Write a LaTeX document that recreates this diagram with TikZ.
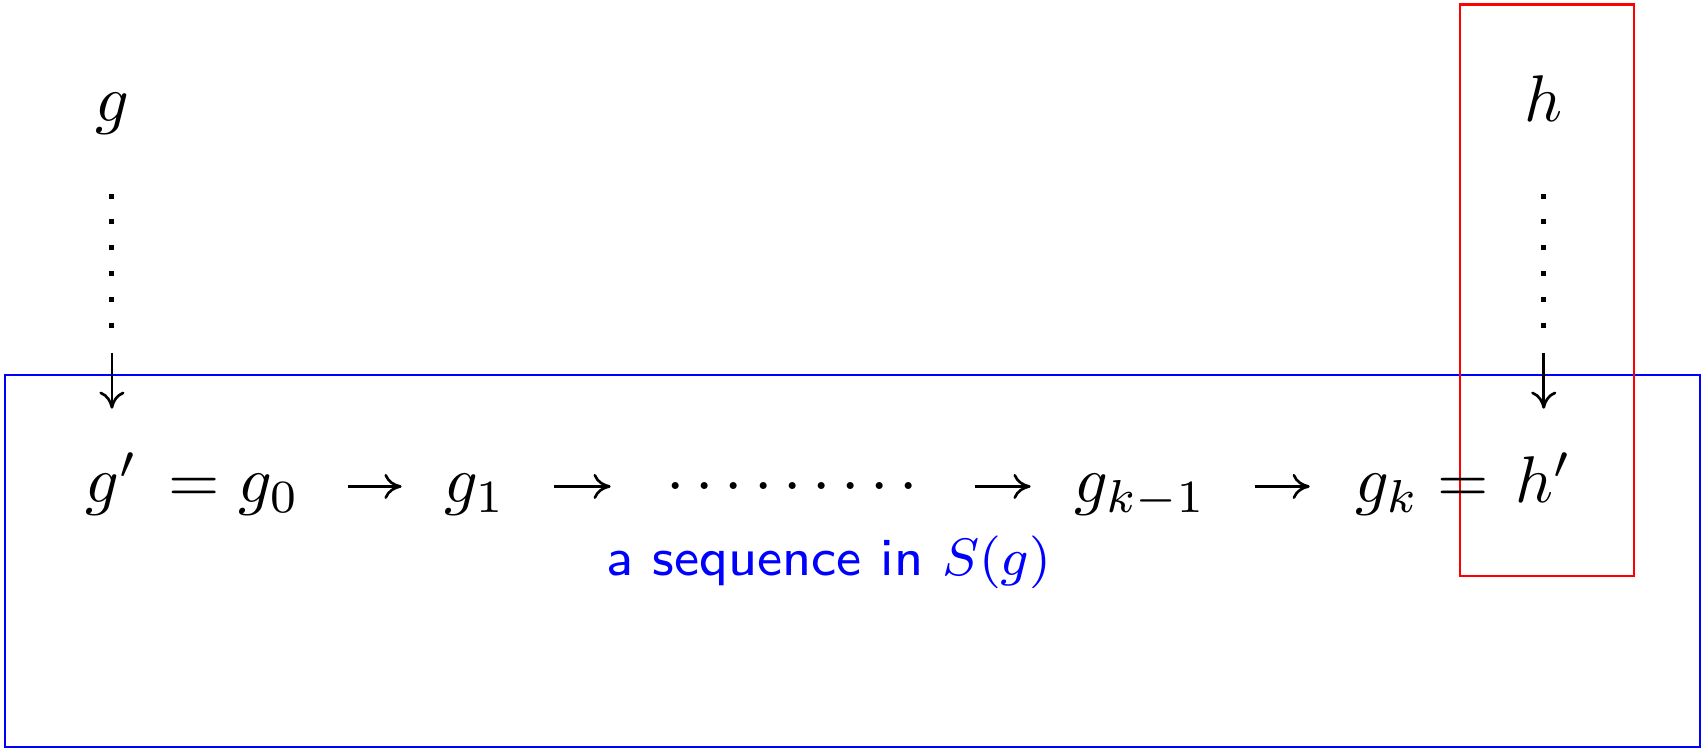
\documentclass[tikz,border=0pt]{standalone}
\usetikzlibrary{arrows.meta}

\begin{document}
\begin{tikzpicture}[>={To[length=2.6pt,width=3.8pt]},
    term/.style={anchor=base,text height=7.5pt,text depth=2.5pt},
    seq/.style={->,shorten <=0.133cm},
    dotline/.style={line width=0.76pt,dash pattern=on 0.76pt off 3.15pt}]
      \useasboundingbox (0,0) rectangle (9.063,3.988);

      % the two boxes
      \draw[blue] (0.027,0.011) rectangle (9.052,1.991);
      \draw[red] (7.774,0.921) rectangle (8.701,3.964);

      \node[term] (g) at (0.596,3.339) {$g$};
      \node[term] (h) at (8.22,3.339) {$h$};

      \node[term] (gp) at (0.596,1.310) {$g'$};
      \node[term] (g0) at (1.246,1.310) {$=g_0$};
      \node[term] (g1) at (2.529,1.310) {$g_1$};
      \node[term,inner xsep=4.6pt] (dots) at (4.220,1.310)
        {\makebox[38.1pt]{$\cdotp$\hfill$\cdotp$\hfill$\cdotp$\hfill$\cdotp$\hfill$\cdotp$\hfill$\cdotp$\hfill$\cdotp$\hfill$\cdotp$\hfill$\cdotp$}};
      \node[term] (gkm) at (6.073,1.310) {$g_{k-1}$};
      \node[term] (gk) at (7.572,1.310) {$g_k=$};
      \node[term] (hp) at (8.22,1.310) {$h'$};

      \node[blue,anchor=base,font=\sffamily\fontsize{8.05}{10}\selectfont] (lbl) at (4.414,0.926) {a sequence in $S(g)$};

      \coordinate (gd) at (0.596,2.109);
      \coordinate (hd) at (8.22,2.109);

      \draw[dotline,shorten <=0.170cm,shorten >=0.125cm] (g) -- (gd);
      \draw[->,shorten >=0.114cm] (gd) -- (gp);
      \draw[dotline,shorten <=0.170cm,shorten >=0.125cm] (h) -- (hd);
      \draw[->,shorten >=0.114cm] (hd) -- (hp);

      \draw[seq,shorten >=0.104cm] (g0) -- (g1);
      \draw[seq,shorten >=0.130cm] (g1) -- (dots);
      \draw[seq,shorten >=0.111cm] (dots) -- (gkm);
      \draw[seq,shorten >=0.118cm] (gkm) -- (gk);
    \end{tikzpicture}
\end{document}
